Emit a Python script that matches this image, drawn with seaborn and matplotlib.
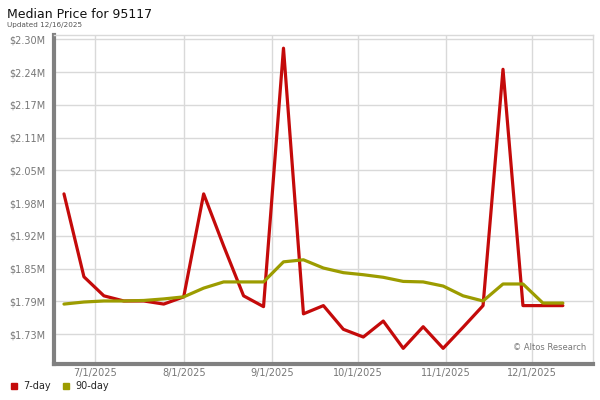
import matplotlib
matplotlib.use("Agg")
import matplotlib.pyplot as plt
from matplotlib.lines import Line2D
import seaborn as sns
import pandas as pd

# weekly dates (Fridays)
dates = pd.date_range("2025-06-20", periods=26, freq="7D")

# median price, in millions of dollars
price_7day = [2.000, 1.839, 1.802, 1.792, 1.792, 1.786, 1.800, 2.000, 1.899, 1.802,
              1.781, 2.283, 1.767, 1.783, 1.737, 1.722, 1.753, 1.700, 1.742, 1.700,
              1.741, 1.783, 2.242, 1.783, 1.783, 1.783]
price_90day = [1.786, 1.790, 1.792, 1.792, 1.793, 1.796, 1.800, 1.817, 1.829, 1.829,
               1.829, 1.868, 1.872, 1.856, 1.847, 1.843, 1.838, 1.830, 1.829, 1.821,
               1.802, 1.792, 1.825, 1.825, 1.788, 1.788]

series_names = ["7-day", "90-day"]
series_colors = ["#c40a0a", "#9c9c00"]

xtick_dates = pd.to_datetime(["2025-07-01", "2025-08-01", "2025-09-01",
                              "2025-10-01", "2025-11-01", "2025-12-01"])
xtick_labels = ["7/1/2025", "8/1/2025", "9/1/2025", "10/1/2025", "11/1/2025", "12/1/2025"]
ytick_values = [1.7275, 1.7911, 1.8547, 1.9183, 1.9819, 2.0455, 2.1091, 2.1727, 2.2363, 2.2999]
ytick_labels = ["$1.73M", "$1.79M", "$1.85M", "$1.92M", "$1.98M",
                "$2.05M", "$2.11M", "$2.17M", "$2.24M", "$2.30M"]

df = pd.DataFrame({
    "date": list(dates) * 2,
    "price": price_7day + price_90day,
    "series": [series_names[0]] * len(dates) + [series_names[1]] * len(dates),
})

sns.set_style("white")
plt.rcParams["font.family"] = ["DejaVu Sans"]

fig = plt.figure(figsize=(6, 4), dpi=100)
ax = fig.add_axes([0.09, 0.09, 0.898, 0.8225])

sns.lineplot(data=df, x="date", y="price", hue="series", palette=series_colors,
             linewidth=2.3, ax=ax, legend=False)

ax.set_xlim(pd.Timestamp("2025-06-16 12:00"), pd.Timestamp("2025-12-22 12:00"))
ax.set_ylim(1.6696, 2.3086)
ax.set_xticks(xtick_dates)
ax.set_xticklabels(xtick_labels)
ax.set_yticks(ytick_values)
ax.set_yticklabels(ytick_labels)
ax.tick_params(axis="y", length=0, labelsize=7, colors="#777777", pad=6)
ax.tick_params(axis="x", length=0, labelsize=7, colors="#777777", pad=3)
ax.set_xlabel("")
ax.set_ylabel("")
ax.grid(True, color="#d9d9d9", linewidth=1)
ax.set_axisbelow(True)

for side in ["top", "right"]:
    ax.spines[side].set_color("#d9d9d9")
    ax.spines[side].set_linewidth(1)
for side in ["left", "bottom"]:
    ax.spines[side].set_color("#808080")
    ax.spines[side].set_linewidth(3)

ax.text(0.988, 0.035, "\u00a9 Altos Research", transform=ax.transAxes,
        ha="right", va="bottom", fontsize=6, color="#777777")

fig.text(0.012, 0.965, "Median Price for 95117", fontsize=9, color="#111111", va="center")
fig.text(0.012, 0.937, "Updated 12/16/2025", fontsize=5.2, color="#555555", va="center")

handles = [Line2D([], [], linestyle="none", marker="s", markersize=5,
                  markerfacecolor=c, markeredgecolor=c) for c in series_colors]
fig.legend(handles, series_names, loc="lower left", bbox_to_anchor=(0.0, 0.0),
           ncol=2, frameon=False, fontsize=7, handletextpad=0.5, columnspacing=1.0,
           handlelength=1.0)

fig.savefig("out.png", dpi=100)
